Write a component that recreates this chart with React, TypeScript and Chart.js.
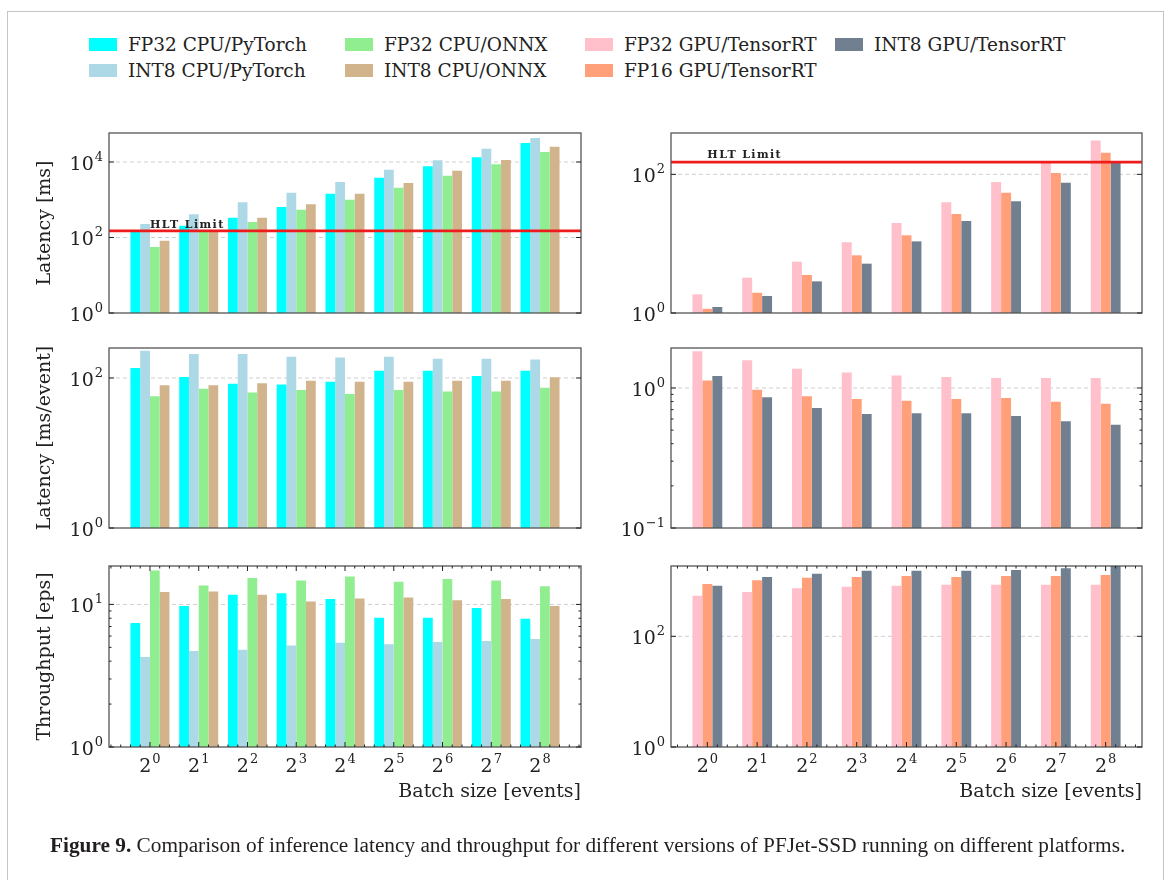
import React, { useEffect, useRef } from 'react';
import { Chart, registerables } from 'chart.js';

Chart.register(...registerables);

// ---------------- data ----------------
const batchExponents = [0, 1, 2, 3, 4, 5, 6, 7, 8];

const seriesNames = [
  'FP32 CPU/PyTorch',
  'INT8 CPU/PyTorch',
  'FP32 CPU/ONNX',
  'INT8 CPU/ONNX',
  'FP32 GPU/TensorRT',
  'FP16 GPU/TensorRT',
  'INT8 GPU/TensorRT',
];
const seriesColors = ['#00ffff', '#add8e6', '#90ee90', '#d2b48c', '#ffc0cb', '#ffa07a', '#708090'];

// Latency [ms]
const latencyFp32CpuTorch = [140, 206, 335, 643, 1449, 3846, 7680, 13300, 31850];
const latencyInt8CpuTorch = [228, 411, 855, 1540, 2953, 6266, 11070, 22550, 43240];
const latencyFp32CpuOnnx = [56, 142, 257, 546, 1005, 2090, 4346, 8670, 18400];
const latencyInt8CpuOnnx = [82, 158, 335, 756, 1449, 2778, 5895, 11300, 25470];
const latencyFp32Gpu = [1.86, 3.23, 5.5, 10.5, 19.9, 39.5, 77.5, 150, 309];
const latencyFp16Gpu = [1.15, 1.96, 3.53, 6.79, 13.2, 26.8, 54.4, 104.5, 205];
const latencyInt8Gpu = [1.22, 1.76, 2.86, 5.15, 10.8, 21.2, 40.8, 75.8, 146];

// Latency [ms/event]
const perEventFp32CpuTorch = [136, 103, 84, 82, 89, 125, 125, 106, 125];
const perEventInt8CpuTorch = [231, 209, 209, 192, 187, 192, 181, 181, 177];
const perEventFp32CpuOnnx = [57, 72, 64, 69, 61, 69, 66, 66, 74];
const perEventInt8CpuOnnx = [80, 80, 85, 92, 89, 89, 92, 92, 102];
const perEventFp32Gpu = [1.83, 1.58, 1.37, 1.29, 1.23, 1.2, 1.18, 1.18, 1.18];
const perEventFp16Gpu = [1.13, 0.973, 0.872, 0.835, 0.812, 0.835, 0.848, 0.799, 0.773];
const perEventInt8Gpu = [1.22, 0.858, 0.72, 0.652, 0.659, 0.659, 0.631, 0.578, 0.547];

// Throughput [eps]
const throughputFp32CpuTorch = [7.4, 9.73, 11.7, 12.0, 10.9, 8.07, 8.07, 9.43, 7.94];
const throughputInt8CpuTorch = [4.27, 4.71, 4.81, 5.16, 5.38, 5.25, 5.44, 5.53, 5.71];
const throughputFp32CpuOnnx = [17.3, 13.6, 15.3, 14.7, 15.7, 14.4, 15.1, 14.7, 13.4];
const throughputInt8CpuOnnx = [12.2, 12.3, 11.7, 10.5, 11.0, 11.2, 10.7, 10.9, 9.73];
const throughputFp32Gpu = [543, 633, 736, 790, 824, 859, 859, 859, 859];
const throughputFp16Gpu = [883, 1028, 1149, 1181, 1231, 1181, 1231, 1231, 1283];
const throughputInt8Gpu = [824, 1181, 1357, 1537, 1537, 1537, 1581, 1694, 1900];

const hltLimitMs = 150;
const hltLabelMs = 175;
const hltLabel = 'HLT Limit';

const xTitle = 'Batch size [events]';
const captionBold = 'Figure 9.';
const captionText =
  ' Comparison of inference latency and throughput for different versions of PFJet-SSD running on different platforms.';

// ---------------- layout / style ----------------
const W = 1170;
const H = 880;
const AXIS_FONT = "'DejaVu Serif', serif";
const TEXT_COLOR = '#222222';

const LEFT_COL = { l: 109, r: 581 };
const RIGHT_COL = { l: 671, r: 1142 };
const ROWS = [
  { t: 133, b: 313 },
  { t: 348, b: 528 },
  { t: 566, b: 747 },
];

type Series = { idx: number; data: number[] };
type PanelSpec = {
  col: { l: number; r: number };
  row: { t: number; b: number };
  series: Series[];
  yMin: number;
  yMax: number;
  decadeStep: number;
  yTitle?: string;
  hlt?: boolean;
  xAxis?: boolean;
  minorY?: boolean;
};

const cpu = (a: number[], b: number[], c: number[], d: number[]): Series[] => [
  { idx: 0, data: a },
  { idx: 1, data: b },
  { idx: 2, data: c },
  { idx: 3, data: d },
];
const gpu = (a: number[], b: number[], c: number[]): Series[] => [
  { idx: 4, data: a },
  { idx: 5, data: b },
  { idx: 6, data: c },
];

const panels: PanelSpec[] = [
  {
    col: LEFT_COL, row: ROWS[0], yMin: 1, yMax: 58600, decadeStep: 2, yTitle: 'Latency [ms]', hlt: true,
    series: cpu(latencyFp32CpuTorch, latencyInt8CpuTorch, latencyFp32CpuOnnx, latencyInt8CpuOnnx),
  },
  {
    col: RIGHT_COL, row: ROWS[0], yMin: 1, yMax: 395, decadeStep: 2, hlt: true,
    series: gpu(latencyFp32Gpu, latencyFp16Gpu, latencyInt8Gpu),
  },
  {
    col: LEFT_COL, row: ROWS[1], yMin: 1, yMax: 251, decadeStep: 2, yTitle: 'Latency [ms/event]',
    series: cpu(perEventFp32CpuTorch, perEventInt8CpuTorch, perEventFp32CpuOnnx, perEventInt8CpuOnnx),
  },
  {
    col: RIGHT_COL, row: ROWS[1], yMin: 0.1, yMax: 1.93, decadeStep: 1, minorY: true,
    series: gpu(perEventFp32Gpu, perEventFp16Gpu, perEventInt8Gpu),
  },
  {
    col: LEFT_COL, row: ROWS[2], yMin: 1, yMax: 18.6, decadeStep: 1, yTitle: 'Throughput [eps]', xAxis: true, minorY: true,
    series: cpu(throughputFp32CpuTorch, throughputInt8CpuTorch, throughputFp32CpuOnnx, throughputInt8CpuOnnx),
  },
  {
    col: RIGHT_COL, row: ROWS[2], yMin: 1, yMax: 1866, decadeStep: 2, xAxis: true,
    series: gpu(throughputFp32Gpu, throughputFp16Gpu, throughputInt8Gpu),
  },
];

function drawPow(ctx: CanvasRenderingContext2D, base: string, exp: string, x: number, y: number, align: 'right' | 'center') {
  ctx.font = `19px ${AXIS_FONT}`;
  const wb = ctx.measureText(base).width;
  ctx.font = `13px ${AXIS_FONT}`;
  const we = ctx.measureText(exp).width;
  const total = wb + 1 + we;
  const x0 = align === 'right' ? x - total : x - total / 2;
  ctx.textAlign = 'left';
  ctx.textBaseline = 'alphabetic';
  ctx.fillStyle = TEXT_COLOR;
  ctx.font = `19px ${AXIS_FONT}`;
  ctx.fillText(base, x0, y);
  ctx.font = `13px ${AXIS_FONT}`;
  ctx.fillText(exp, x0 + wb + 1, y - 9);
}

function majorExponents(spec: PanelSpec): number[] {
  const out: number[] = [];
  const e0 = Math.floor(Math.log10(spec.yMin) + 1e-9);
  for (let e = e0; 10 ** e <= spec.yMax * 1.0001; e += spec.decadeStep) out.push(e);
  return out;
}

function makePlugin(spec: PanelSpec) {
  return {
    id: 'sciStyle',
    beforeDatasetsDraw(chart: any) {
      const { ctx, chartArea: a, scales } = chart;
      const y = scales.y;
      ctx.save();
      ctx.strokeStyle = '#cfcfcf';
      ctx.lineWidth = 1;
      ctx.setLineDash([4, 3]);
      majorExponents(spec).forEach((e) => {
        const v = 10 ** e;
        if (v <= spec.yMin * 1.0001) return;
        const py = y.getPixelForValue(v);
        ctx.beginPath();
        ctx.moveTo(a.left, py);
        ctx.lineTo(a.right, py);
        ctx.stroke();
      });
      ctx.restore();
    },
    afterDatasetsDraw(chart: any) {
      const { ctx, chartArea: a, scales } = chart;
      const x = scales.x;
      const y = scales.y;
      ctx.save();

      // HLT limit line
      if (spec.hlt) {
        const py = y.getPixelForValue(hltLimitMs);
        ctx.strokeStyle = '#ee1c1c';
        ctx.lineWidth = 2.6;
        ctx.beginPath();
        ctx.moveTo(a.left, py);
        ctx.lineTo(a.right, py);
        ctx.stroke();
        ctx.fillStyle = TEXT_COLOR;
        ctx.font = `bold 11px ${AXIS_FONT}`;
        (ctx as any).letterSpacing = '1.4px';
        ctx.textAlign = 'left';
        ctx.textBaseline = 'alphabetic';
        ctx.fillText(hltLabel, x.getPixelForValue(0), y.getPixelForValue(hltLabelMs));
        (ctx as any).letterSpacing = '0px';
      }

      // frame
      ctx.strokeStyle = '#555555';
      ctx.lineWidth = 1.3;
      ctx.strokeRect(a.left, a.top, a.right - a.left, a.bottom - a.top);

      // y ticks
      ctx.strokeStyle = '#222222';
      ctx.lineWidth = 1;
      const majors = majorExponents(spec);
      const tickAt = (v: number, len: number) => {
        const py = y.getPixelForValue(v);
        ctx.beginPath();
        ctx.moveTo(a.left, py);
        ctx.lineTo(a.left + len, py);
        ctx.moveTo(a.right, py);
        ctx.lineTo(a.right - len, py);
        ctx.stroke();
      };
      majors.forEach((e) => tickAt(10 ** e, 5));
      if (spec.minorY) {
        const eMin = Math.floor(Math.log10(spec.yMin) + 1e-9);
        const eMax = Math.ceil(Math.log10(spec.yMax));
        for (let e = eMin; e <= eMax; e++) {
          for (let k = 2; k <= 9; k++) {
            const v = k * 10 ** e;
            if (v < spec.yMin || v > spec.yMax) continue;
            tickAt(v, 2.5);
          }
        }
      }

      // x ticks (bottom row)
      if (spec.xAxis) {
        const kMin = Math.ceil(x.min * 5);
        const kMax = Math.floor(x.max * 5);
        for (let k = kMin; k <= kMax; k++) {
          const major = k % 5 === 0;
          const len = major ? 5 : 2.5;
          const px = x.getPixelForValue(k / 5);
          ctx.beginPath();
          ctx.moveTo(px, a.bottom);
          ctx.lineTo(px, a.bottom - len);
          ctx.moveTo(px, a.top);
          ctx.lineTo(px, a.top + len);
          ctx.stroke();
        }
      }

      // y tick labels
      majors.forEach((e) => {
        const py = y.getPixelForValue(10 ** e);
        drawPow(ctx, '10', e < 0 ? '\u2212' + String(-e) : String(e), a.left - 6, py + 8, 'right');
      });

      // x tick labels and title
      if (spec.xAxis) {
        batchExponents.forEach((ex) => {
          drawPow(ctx, '2', String(ex), x.getPixelForValue(ex), a.bottom + 25, 'center');
        });
        ctx.font = `19px ${AXIS_FONT}`;
        ctx.fillStyle = TEXT_COLOR;
        ctx.textAlign = 'right';
        ctx.textBaseline = 'alphabetic';
        ctx.fillText(xTitle, a.right, a.bottom + 50);
      }

      // y title
      if (spec.yTitle) {
        ctx.translate(45, (a.top + a.bottom) / 2);
        ctx.rotate(-Math.PI / 2);
        ctx.font = `19px ${AXIS_FONT}`;
        ctx.fillStyle = TEXT_COLOR;
        ctx.textAlign = 'center';
        ctx.textBaseline = 'middle';
        ctx.fillText(spec.yTitle, 0, 0);
      }
      ctx.restore();
    },
  };
}

function Panel({ spec }: { spec: PanelSpec }) {
  const ref = useRef<HTMLCanvasElement>(null);
  useEffect(() => {
    const nBars = spec.series.length;
    const half = nBars * 0.1;
    const span = 8 + 2 * half;
    const margin = 0.05 * span;
    const chart = new Chart(ref.current!, {
      type: 'bar',
      data: {
        labels: batchExponents,
        datasets: spec.series.map((s) => ({
          label: seriesNames[s.idx],
          data: s.data,
          backgroundColor: seriesColors[s.idx],
          borderWidth: 0,
          barPercentage: 1,
          categoryPercentage: nBars * 0.2,
          clip: 0,
        })),
      },
      options: {
        responsive: false,
        animation: false,
        events: [],
        layout: {
          padding: { left: spec.col.l, right: W - spec.col.r, top: spec.row.t, bottom: H - spec.row.b },
        },
        plugins: { legend: { display: false }, tooltip: { enabled: false }, title: { display: false } },
        scales: {
          x: {
            type: 'linear',
            display: false,
            offset: false,
            min: -half - margin,
            max: 8 + half + margin,
            ticks: { stepSize: 1, includeBounds: false },
          },
          y: {
            type: 'logarithmic',
            display: false,
            min: spec.yMin,
            max: spec.yMax,
            beginAtZero: false,
          },
        },
      } as any,
      plugins: [makePlugin(spec) as any],
    });
    return () => chart.destroy();
  }, [spec]);
  return (
    <canvas
      ref={ref}
      width={W}
      height={H}
      style={{ position: 'absolute', left: 0, top: 0, width: W, height: H }}
    />
  );
}

const legendColumnsX = [89, 345, 585, 835];
const legendRowsY = [44, 70];

function Legend() {
  return (
    <>
      {seriesNames.map((name, i) => {
        const col = Math.floor(i / 2);
        const row = i % 2;
        return (
          <div
            key={name}
            style={{
              position: 'absolute',
              left: legendColumnsX[col],
              top: legendRowsY[row] - 12,
              height: 24,
              display: 'flex',
              alignItems: 'center',
              whiteSpace: 'nowrap',
              fontFamily: AXIS_FONT,
              fontSize: 18.5,
              color: TEXT_COLOR,
            }}
          >
            <span style={{ display: 'inline-block', width: 28, height: 13, background: seriesColors[i], marginRight: 11 }} />
            <span>{name}</span>
          </div>
        );
      })}
    </>
  );
}

export default function App() {
  return (
    <div
      style={{
        position: 'absolute',
        left: 0,
        top: 0,
        width: W,
        height: H,
        overflow: 'hidden',
        background: '#ffffff',
      }}
    >
      <div
        style={{
          position: 'absolute',
          left: 7,
          top: 11,
          width: 1155,
          height: 900,
          borderLeft: '1.5px solid #c4c4c4',
          borderTop: '1.5px solid #c4c4c4',
          borderRight: '1.5px solid #c4c4c4',
        }}
      />
      <Legend />
      {panels.map((p, i) => (
        <Panel key={i} spec={p} />
      ))}
      <div
        style={{
          position: 'absolute',
          left: 50,
          top: 833,
          whiteSpace: 'nowrap',
          fontFamily: "'Liberation Serif', serif",
          fontSize: 21.3,
          color: '#231f20',
        }}
      >
        <b>{captionBold}</b>
        {captionText}
      </div>
    </div>
  );
}
